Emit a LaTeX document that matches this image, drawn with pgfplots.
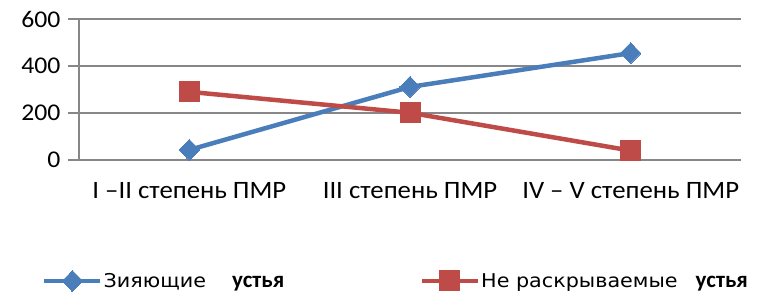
\documentclass[border=0pt]{standalone}
\usepackage{pgfplots}
\pgfplotsset{compat=1.18}
\usepackage{fontspec}
\setmainfont{Carlito}[FakeStretch=1.07]
\newfontfamily\legfont{DejaVu Sans}[FakeStretch=1.09]
\newfontfamily\ustfont{Carlito}
\definecolor{sblue}{HTML}{4A7EBB}
\definecolor{sred}{HTML}{BE4B48}
\definecolor{gridg}{HTML}{878787}
\begin{document}
\begin{tikzpicture}[x=1pt,y=1pt]
\useasboundingbox (0,0) rectangle (760,298);
\begin{axis}[
  at={(79pt,138pt)}, anchor=south west,
  scale only axis, width=662pt, height=141pt,
  xmin=-0.5, xmax=2.5, ymin=0, ymax=600,
  axis lines=left, axis line style={gridg, line width=1.2pt, -},
  xtick={0,1,2},
  xticklabels={I –II степень ПМР, III степень ПМР, IV – V степень ПМР},
  extra x ticks={-0.5,0.5,1.5,2.5}, extra x tick labels={},
  extra x tick style={major tick length=8pt, tick style={gridg, line width=1.2pt}, tick align=outside, grid=none},
  major x tick style={draw=none},
  ytick={0,200,400,600},
  ymajorgrids, grid style={gridg, line width=1.2pt},
  ytick style={gridg, line width=1.2pt},
  tick align=outside, major tick length=11pt,
  /pgf/number format/assume math mode=true,
  yticklabel style={font=\fontsize{24}{26}\selectfont, black, xshift=-4pt},
  xticklabel style={font=\fontsize{25}{28}\selectfont, black, yshift=-8pt},
  clip=false,
  legend columns=2,
  legend style={at={(-0.0559,-0.858)}, anchor=west, draw=none, fill=none, inner sep=0pt,
    nodes={inner sep=1pt, font=\legfont\fontsize{19}{22}\selectfont}},
  legend cell align=left,
  legend image code/.code={\draw[#1, mark repeat=2, mark phase=2] plot coordinates {(0pt,0pt)(28pt,0pt)(56pt,0pt)};},
]
\addplot[sblue, line width=4.5pt, mark=diamond*, mark size=10.5pt, mark options={solid, line width=0pt, xscale=1.3}]
  coordinates {(0,43) (1,311) (2,455)};
\addlegendentry{\makebox[315pt][l]{Зияющие\hspace{26pt}{\ustfont\fontsize{23}{24}\selectfont\bfseries устья}}}
\addplot[sred, line width=4.5pt, mark=square*, mark size=10pt, mark options={solid, line width=0pt}]
  coordinates {(0,290) (1,201) (2,40)};
\addlegendentry{Не раскрываемые\hspace{18pt}{\ustfont\fontsize{23}{24}\selectfont\bfseries устья}}
\end{axis}
\end{tikzpicture}
\end{document}
